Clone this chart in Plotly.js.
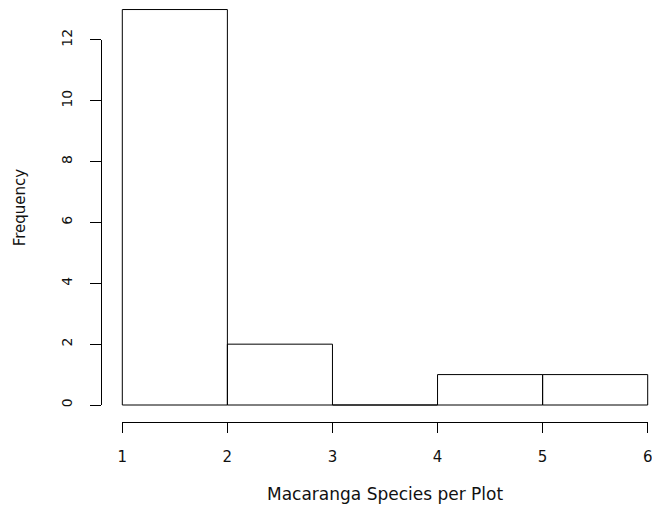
<!DOCTYPE html>
<html>
<head>
<meta charset="utf-8">
<script src="https://cdn.plot.ly/plotly-3.0.1.min.js"></script>
<style>html,body{margin:0;padding:0;background:#fff;}#chart{width:652px;height:508px;}</style>
</head>
<body>
<div id="chart"></div>
<script>
// Histogram data (bin edges and counts)
var binStart = [1, 2, 3, 4, 5];
var binEnd = [2, 3, 4, 5, 6];
var counts = [13, 2, 0, 1, 1];
var xTicks = [1, 2, 3, 4, 5, 6];
var yTicks = [0, 2, 4, 6, 8, 10, 12];
var xTitle = "Macaranga Species per Plot";
var yTitle = "Frequency";

var W = 652, H = 508;
// pixel geometry (R-like)
var x1px = 122.3, x6px = 647.7;
var pxPerX = (x6px - x1px) / 5;
var y0px = 405, pxPerY = 30.42;

var centers = binStart.map(function (s, i) { return (s + binEnd[i]) / 2; });
var widths = binStart.map(function (s, i) { return binEnd[i] - s; });

var fam = "DejaVu Sans, Liberation Sans, Arial, sans-serif";
var font = {family: fam, size: 14, color: "#111"};

var traces = [
  {
    type: "bar", x: centers, y: counts, width: widths,
    marker: {color: "rgba(0,0,0,0)", line: {color: "#000", width: 1}},
    xaxis: "x", yaxis: "y", hoverinfo: "skip", showlegend: false
  },
  {
    type: "scatter", mode: "none", x: [1, 6], y: [0, 12],
    xaxis: "x2", yaxis: "y2", hoverinfo: "skip", showlegend: false
  }
];

var layout = {
  width: W, height: H,
  margin: {l: 0, r: 0, t: 0, b: 0},
  paper_bgcolor: "#fff", plot_bgcolor: "rgba(0,0,0,0)",
  font: font,
  showlegend: false,
  xaxis: {
    domain: [0, 1],
    range: [1 - x1px / pxPerX, 1 + (W - x1px) / pxPerX],
    visible: false, fixedrange: true
  },
  yaxis: {
    domain: [0, 1],
    range: [-(H - y0px) / pxPerY, y0px / pxPerY],
    visible: false, fixedrange: true
  },
  xaxis2: {
    domain: [x1px / W, x6px / W],
    range: [1, 6],
    anchor: "free", position: 1 - 421.5 / H,
    showline: true, linecolor: "#000", linewidth: 1,
    ticks: "outside", ticklen: 10, tickcolor: "#000", tickwidth: 1,
    tickvals: xTicks, ticktext: xTicks.map(String),
    ticklabelstandoff: 11,
    ticklabeloverflow: "allow",
    showgrid: false, zeroline: false, fixedrange: true,
    tickfont: {family: fam, size: 15, color: "#111"}
  },
  yaxis2: {
    domain: [1 - (y0px) / H, 1 - (y0px - 12 * pxPerY) / H],
    range: [0, 12],
    anchor: "free", position: 101 / W,
    showline: true, linecolor: "#000", linewidth: 1,
    ticks: "outside", ticklen: 11, tickcolor: "#000", tickwidth: 1,
    tickvals: yTicks, ticktext: yTicks.map(String),
    tickangle: -90,
    ticklabelstandoff: 12,
    ticklabeloverflow: "allow",
    showgrid: false, zeroline: false, fixedrange: true,
    tickfont: {family: fam, size: 14, color: "#111"}
  },
  annotations: [
    {
      text: xTitle, xref: "x", yref: "paper", x: 3.5, y: 1 - 494 / H,
      showarrow: false, xanchor: "center", yanchor: "middle",
      font: {family: fam, size: 17, color: "#111"}
    },
    {
      text: yTitle, xref: "paper", yref: "y", x: 20 / W, y: 6.5,
      showarrow: false, xanchor: "center", yanchor: "middle", textangle: -90,
      font: {family: fam, size: 15, color: "#111"}
    }
  ]
};

Plotly.newPlot("chart", traces, layout, {displayModeBar: false, staticPlot: true});
</script>
</body>
</html>
